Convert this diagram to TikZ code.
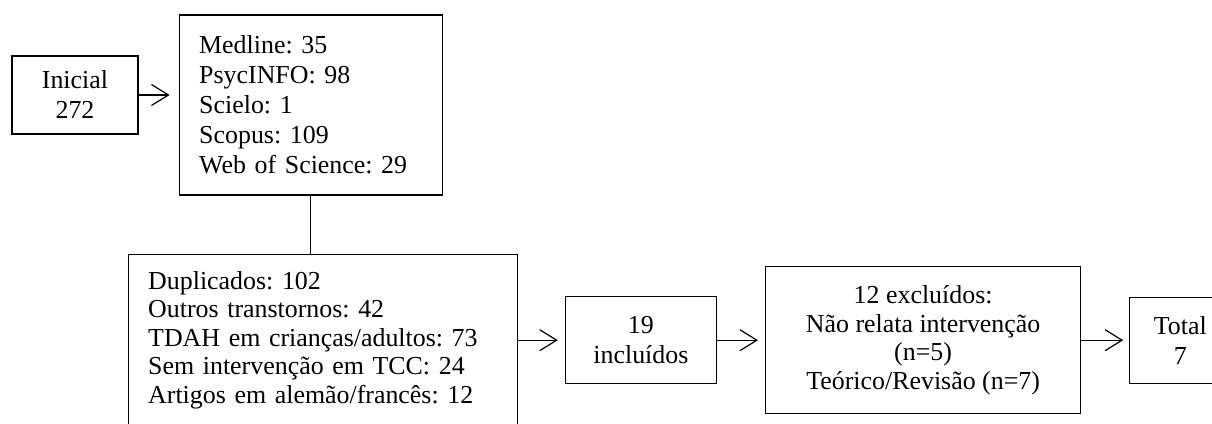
\documentclass[tikz,border=0pt]{standalone}
\usepackage{fontspec}
\setmainfont{Liberation Serif}
\frenchspacing
\usetikzlibrary{arrows.meta,positioning}

\begin{document}
\begin{tikzpicture}[
  font=\fontsize{25.9}{30}\selectfont,
  line width=1.2pt,
  box/.style={draw,align=center,inner sep=0pt},
  listbox/.style={draw,align=left,inner xsep=20pt,inner ysep=0pt},
  tight/.style={font=\fontsize{25.9}{28.5}\selectfont},
  >={Straight Barb[length=17pt,width=21pt]},
]
  \useasboundingbox (0,0) rectangle (1212pt,-423pt);
  \clip (0,0) rectangle (1212pt,-423pt);

  \node[box,minimum width=126pt,minimum height=78pt] (ini) at (75pt,-95pt) {Inicial\\272};
  \node[listbox,text width=223pt,minimum height=180pt,right=40pt of ini,yshift=-10pt] (db)
    {Medline: 35\\ PsycINFO: 98\\ Scielo: 1\\ Scopus: 109\\ Web of Science: 29};
  \node[listbox,tight,text width=349pt,minimum height=172pt,below=58pt of db,xshift=12pt] (excl1)
    {Duplicados: 102\\ Outros transtornos: 42\\ TDAH em crianças/adultos: 73\\
     Sem intervenção em TCC: 24\\ Artigos em alemão/francês: 12};
  \node[box,minimum width=151pt,minimum height=87pt,right=47pt of excl1] (inc) {19\\ incluídos};
  \node[box,tight,minimum width=315pt,minimum height=147pt,right=48pt of inc] (excl2)
    {12 excluídos:\\ Não relata intervenção\\ (n=5)\\ Teórico/Revisão (n=7)};
  \node[box,minimum width=101pt,minimum height=86pt,right=48pt of excl2] (tot) {Total\\ 7};

  \draw[->,shorten >=9pt] (ini.east) -- (ini.east -| db.west);
  \draw (db.south) -- (db.south |- excl1.north);
  \draw[->,shorten >=7pt] (excl1) -- (inc);
  \draw[->,shorten >=7pt] (inc) -- (excl2);
  \draw[->,shorten >=6pt] (excl2) -- (tot);
\end{tikzpicture}
\end{document}
